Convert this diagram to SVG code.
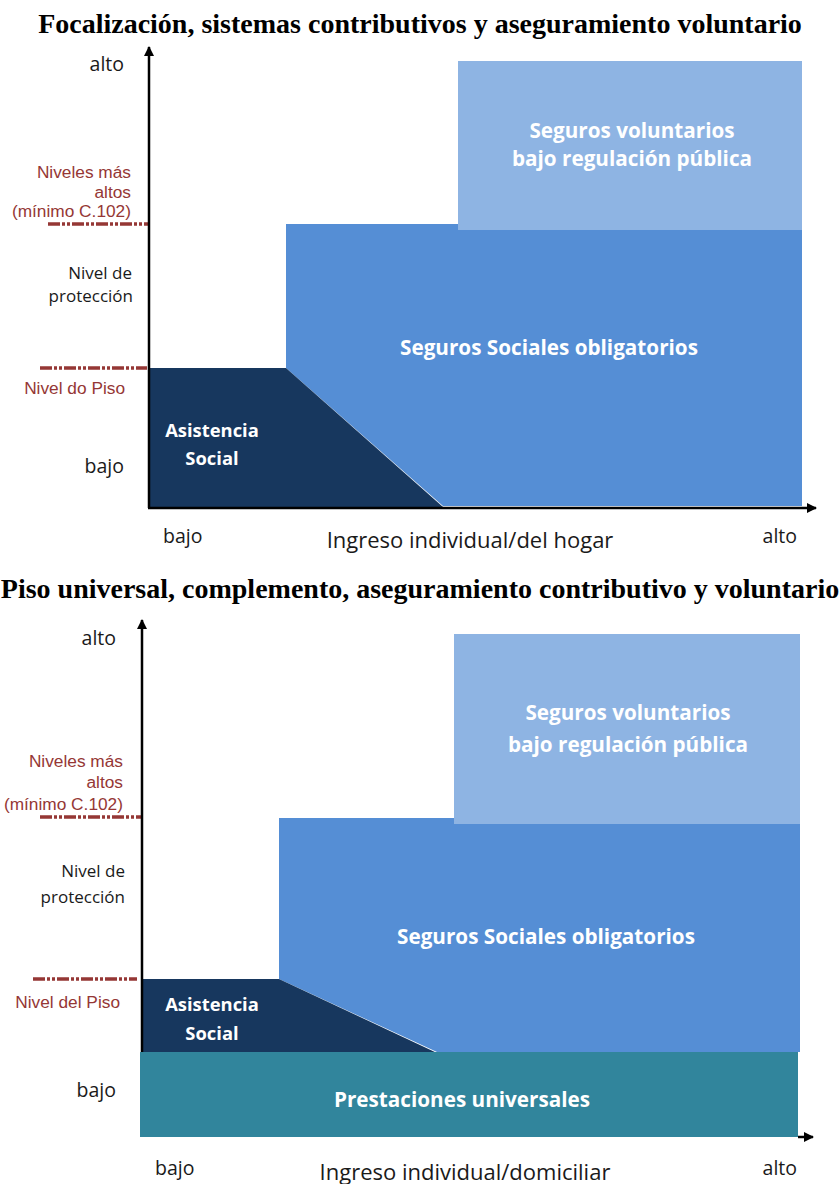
<svg xmlns="http://www.w3.org/2000/svg" width="840" height="1184" viewBox="0 0 840 1184">
<style>
.title{font-family:"Liberation Serif",serif;font-weight:bold;font-size:28px;fill:#000;text-anchor:middle}
.ax{font-family:"Open Sans",sans-serif;font-size:19.5px;fill:#1a1a1a}
.ax2{font-family:"Open Sans",sans-serif;font-size:17px;fill:#1a1a1a;text-anchor:end}
.axl{font-family:"Open Sans",sans-serif;font-size:22px;fill:#1a1a1a;text-anchor:middle}
.red{font-family:"Liberation Sans",Arial,sans-serif;font-size:17.3px;fill:#953735;text-anchor:end}
.lbl{font-family:"Open Sans",sans-serif;font-weight:bold;font-size:20.7px;fill:#fff;text-anchor:middle}
.lbs{font-family:"Open Sans",sans-serif;font-weight:bold;font-size:18.4px;fill:#fff;text-anchor:middle}
.axis{stroke:#000;stroke-width:2.5;fill:none}
.dash{stroke:#953735;stroke-width:3.5;fill:none;stroke-dasharray:12 2 3 2 3 2}
</style>
<defs>
<marker id="arr" viewBox="0 0 10 10" refX="9" refY="5" markerWidth="4" markerHeight="4" orient="auto" markerUnits="strokeWidth">
<path d="M0,0 L10,5 L0,10 z" fill="#000"/>
</marker>
</defs>

<g id="chart1">
<text class="title" x="420" y="33">Focalización, sistemas contributivos y aseguramiento voluntario</text>
<g id="c1-social-insurance"><polygon points="286,224 802,224 802,506 443,506 286,368" fill="#558ED5"/>
<text class="lbl" x="549" y="355">Seguros Sociales obligatorios</text></g>
<g id="c1-voluntary"><rect x="458" y="61" width="344" height="169" fill="#8EB4E3"/>
<text class="lbl" x="632" y="138">Seguros voluntarios</text>
<text class="lbl" x="632" y="166">bajo regulación pública</text></g>
<g id="c1-assistance"><polygon points="150,368 286,368 443,507 150,507" fill="#17375E"/>
<text class="lbs" x="212" y="437">Asistencia</text>
<text class="lbs" x="212" y="465">Social</text></g>
<g id="c1-labels">
<text class="ax" x="124" y="71" text-anchor="end">alto</text>
<text class="red" x="131" y="178">Niveles más</text>
<text class="red" x="131" y="198">altos</text>
<text class="red" x="131" y="217">(mínimo C.102)</text>
<text class="ax2" x="132" y="279">Nivel de</text>
<text class="ax2" x="133" y="302">protección</text>
<text class="red" x="125" y="394">Nivel do Piso</text>
<text class="ax" x="124" y="473" text-anchor="end">bajo</text>
<text class="ax" x="163" y="543">bajo</text>
<text class="axl" x="470" y="548">Ingreso individual/del hogar</text>
<text class="ax" x="797" y="543" text-anchor="end">alto</text>
</g>
<g id="c1-connectors">
<line class="dash" x1="48" y1="224" x2="150" y2="224"/>
<line class="dash" x1="40" y1="368" x2="147" y2="368"/>
<line class="axis" x1="149" y1="508" x2="149" y2="47" marker-end="url(#arr)"/>
<line class="axis" x1="148" y1="508" x2="816" y2="508" marker-end="url(#arr)"/>
</g>
</g>

<g id="chart2">
<text class="title" x="420" y="598">Piso universal, complemento, aseguramiento contributivo y voluntario</text>
<g id="c2-social-insurance"><polygon points="279,818 800,818 800,1052 437,1052 279,979" fill="#558ED5"/>
<text class="lbl" x="546" y="944">Seguros Sociales obligatorios</text></g>
<g id="c2-voluntary"><rect x="454" y="634" width="346" height="190" fill="#8EB4E3"/>
<text class="lbl" x="628" y="720">Seguros voluntarios</text>
<text class="lbl" x="628" y="752">bajo regulación pública</text></g>
<g id="c2-assistance"><polygon points="142,979 279,979 437,1053 142,1053" fill="#17375E"/>
<text class="lbs" x="212" y="1011">Asistencia</text>
<text class="lbs" x="212" y="1040">Social</text></g>
<g id="c2-universal"><rect x="140" y="1052" width="658" height="85" fill="#31859C"/>
<text class="lbl" x="462" y="1107">Prestaciones universales</text></g>
<g id="c2-labels">
<text class="ax" x="116" y="645" text-anchor="end">alto</text>
<text class="red" x="123" y="767">Niveles más</text>
<text class="red" x="123" y="788">altos</text>
<text class="red" x="123" y="810">(mínimo C.102)</text>
<text class="ax2" x="125" y="877">Nivel de</text>
<text class="ax2" x="125" y="903">protección</text>
<text class="red" x="120" y="1008">Nivel del Piso</text>
<text class="ax" x="116" y="1097" text-anchor="end">bajo</text>
<text class="ax" x="155" y="1175">bajo</text>
<text class="axl" x="465" y="1180">Ingreso individual/domiciliar</text>
<text class="ax" x="797" y="1175" text-anchor="end">alto</text>
</g>
<g id="c2-connectors">
<line class="dash" x1="40" y1="817" x2="143" y2="817"/>
<line class="dash" x1="33" y1="979" x2="137" y2="979"/>
<line class="axis" x1="142" y1="1052" x2="142" y2="620" marker-end="url(#arr)"/>
<line class="axis" x1="798" y1="1137" x2="813" y2="1137" marker-end="url(#arr)"/>
</g>
</g>
</svg>
